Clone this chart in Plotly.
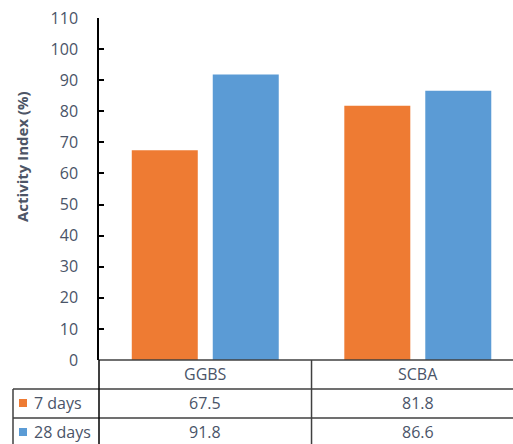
import plotly.graph_objects as go

categories = ["GGBS", "SCBA"]
series_names = ["7 days", "28 days"]
days7 = [67.5, 81.8]
days28 = [91.8, 86.6]
series_values = [days7, days28]
colors = ["#EE7B33", "#5B9BD5"]
y_ticks = list(range(0, 111, 10))

W, H = 513, 444
L, R, T, B = 99, 0, 18, 84
pw, ph = W - L - R, H - T - B

def px_x(x):
    return (x - L) / pw

def px_y(y):
    return (H - B - y) / ph

FONT = "Open Sans"
TXT = "#4A5468"

fig = go.Figure()
for name, vals, col in zip(series_names, series_values, colors):
    fig.add_trace(go.Bar(x=categories, y=vals, name=name,
                         marker=dict(color=col, line=dict(width=0))))

shapes = []
line_col = "#404040"
for yy, x0 in [(360, 99), (389, 13), (418, 13)]:
    shapes.append(dict(type="line", xref="paper", yref="paper",
                       x0=px_x(x0), x1=1, y0=px_y(yy), y1=px_y(yy),
                       line=dict(color=line_col, width=1.5)))
shapes.append(dict(type="line", xref="paper", yref="paper",
                   x0=px_x(13), x1=px_x(13), y0=px_y(389), y1=px_y(446),
                   line=dict(color=line_col, width=1.5)))
shapes.append(dict(type="line", xref="paper", yref="paper",
                   x0=0, x1=0, y0=px_y(360), y1=px_y(446),
                   line=dict(color="#000000", width=1.5)))
shapes.append(dict(type="line", xref="x", yref="paper",
                   x0=0.5, x1=0.5, y0=px_y(360), y1=px_y(446),
                   line=dict(color=line_col, width=1.5)))

annotations = []
for c in categories:
    annotations.append(dict(x=c, y=px_y(374), xref="x", yref="paper",
                            text=c, showarrow=False, xanchor="center", yanchor="middle",
                            font=dict(family=FONT, size=16, color=TXT)))
row_y = [403, 432]
for name, vals, col, ry in zip(series_names, series_values, colors, row_y):
    shapes.append(dict(type="rect", xref="paper", yref="paper",
                       x0=px_x(19), x1=px_x(27), y0=px_y(ry + 4), y1=px_y(ry - 4),
                       fillcolor=col, line=dict(width=0)))
    annotations.append(dict(x=px_x(32), y=px_y(ry), xref="paper", yref="paper",
                            text=name, showarrow=False, xanchor="left", yanchor="middle",
                            font=dict(family=FONT, size=16, color=TXT)))
    for c, v in zip(categories, vals):
        annotations.append(dict(x=c, y=px_y(ry), xref="x", yref="paper",
                                text=f"{v:.1f}", showarrow=False,
                                xanchor="center", yanchor="middle",
                                font=dict(family=FONT, size=16, color=TXT)))

annotations.append(dict(x=px_x(22), y=px_y(157), xref="paper", yref="paper",
                        text="<b>Activity Index (%)</b>", showarrow=False, textangle=-90,
                        xanchor="center", yanchor="middle",
                        font=dict(family=FONT, size=15, color="#4D5566")))

fig.update_layout(
    width=W, height=H,
    margin=dict(l=L, r=R, t=T, b=B, pad=0),
    paper_bgcolor="white", plot_bgcolor="white",
    showlegend=False,
    barmode="group", bargap=0.238, bargroupgap=0.185,
    shapes=shapes, annotations=annotations,
    font=dict(family=FONT, size=14, color=TXT),
)
fig.update_xaxes(range=[-0.5, 1.448], showticklabels=False, showgrid=False,
                 zeroline=False, showline=False, ticks="")
fig.update_yaxes(range=[0, 110], tickvals=y_ticks, showgrid=False, zeroline=False,
                 showline=True, linecolor="#000000", linewidth=1.5,
                 ticks="inside", ticklen=5, tickcolor="#000000", tickwidth=1.5,
                 ticklabelstandoff=16,
                 tickfont=dict(family=FONT, size=16, color=TXT))

fig.write_html("out.html")
